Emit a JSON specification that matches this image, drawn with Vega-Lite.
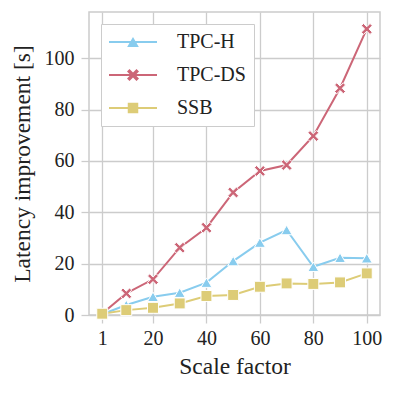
{
  "$schema": "https://vega.github.io/schema/vega-lite/v6.json",
  "width": 291,
  "height": 303,
  "autosize": {"type": "none"},
  "padding": {"left": 89, "top": 12, "right": 14, "bottom": 79},
  "background": "white",
  "config": {
    "font": "Liberation Serif",
    "view": {"stroke": "#cccccc", "strokeWidth": 1.5},
    "axis": {
      "labelFont": "Liberation Serif",
      "titleFont": "Liberation Serif",
      "labelFontSize": 20,
      "titleFontSize": 23.5,
      "titleFontWeight": "normal",
      "labelColor": "#222222",
      "titleColor": "#222222",
      "gridColor": "#cccccc",
      "gridWidth": 1.3,
      "tickColor": "#cccccc",
      "tickWidth": 1.3,
      "tickSize": 8,
      "domain": false
    },
    "legend": {
      "labelFont": "Liberation Serif",
      "labelFontSize": 20,
      "labelColor": "#222222"
    }
  },
  "data": {
    "values": [
      {"sf": 1, "benchmark": "TPC-H", "latency": 0.3},
      {"sf": 10, "benchmark": "TPC-H", "latency": 3.9},
      {"sf": 20, "benchmark": "TPC-H", "latency": 7.1},
      {"sf": 30, "benchmark": "TPC-H", "latency": 8.7},
      {"sf": 40, "benchmark": "TPC-H", "latency": 12.6},
      {"sf": 50, "benchmark": "TPC-H", "latency": 21.0},
      {"sf": 60, "benchmark": "TPC-H", "latency": 28.2},
      {"sf": 70, "benchmark": "TPC-H", "latency": 33.1},
      {"sf": 80, "benchmark": "TPC-H", "latency": 18.8},
      {"sf": 90, "benchmark": "TPC-H", "latency": 22.3},
      {"sf": 100, "benchmark": "TPC-H", "latency": 22.1},
      {"sf": 1, "benchmark": "TPC-DS", "latency": 0.6},
      {"sf": 10, "benchmark": "TPC-DS", "latency": 8.4},
      {"sf": 20, "benchmark": "TPC-DS", "latency": 13.9},
      {"sf": 30, "benchmark": "TPC-DS", "latency": 26.2},
      {"sf": 40, "benchmark": "TPC-DS", "latency": 34.0},
      {"sf": 50, "benchmark": "TPC-DS", "latency": 47.7},
      {"sf": 60, "benchmark": "TPC-DS", "latency": 56.1},
      {"sf": 70, "benchmark": "TPC-DS", "latency": 58.4},
      {"sf": 80, "benchmark": "TPC-DS", "latency": 69.7},
      {"sf": 90, "benchmark": "TPC-DS", "latency": 88.3},
      {"sf": 100, "benchmark": "TPC-DS", "latency": 111.4},
      {"sf": 1, "benchmark": "SSB", "latency": 0.5},
      {"sf": 10, "benchmark": "SSB", "latency": 1.9},
      {"sf": 20, "benchmark": "SSB", "latency": 2.8},
      {"sf": 30, "benchmark": "SSB", "latency": 4.5},
      {"sf": 40, "benchmark": "SSB", "latency": 7.4},
      {"sf": 50, "benchmark": "SSB", "latency": 7.8},
      {"sf": 60, "benchmark": "SSB", "latency": 11.0},
      {"sf": 70, "benchmark": "SSB", "latency": 12.3},
      {"sf": 80, "benchmark": "SSB", "latency": 12.1},
      {"sf": 90, "benchmark": "SSB", "latency": 12.7},
      {"sf": 100, "benchmark": "SSB", "latency": 16.2}
    ]
  },
  "encoding": {
    "x": {
      "field": "sf",
      "type": "quantitative",
      "scale": {"domain": [-3.95, 104.95], "nice": false, "zero": false},
      "axis": {"values": [1, 20, 40, 60, 80, 100], "title": "Scale factor", "labelPadding": 5, "titlePadding": 6, "labelFlush": false}
    },
    "y": {
      "field": "latency",
      "type": "quantitative",
      "scale": {"domain": [0, 118], "nice": false},
      "axis": {"values": [0, 20, 40, 60, 80, 100], "title": "Latency improvement [s]", "labelPadding": 7, "titlePadding": 10, "labelFlush": false}
    },
    "color": {
      "field": "benchmark",
      "type": "nominal",
      "scale": {"domain": ["TPC-H", "TPC-DS", "SSB"], "range": ["#88CCEE", "#CC6677", "#DDCC77"]},
      "legend": {
        "title": null,
        "orient": "top-left",
        "offset": 12,
        "fillColor": "white",
        "strokeColor": "#cccccc",
        "padding": 8,
        "symbolSize": 100,
        "symbolOffset": 14,
        "labelOffset": 34,
        "rowPadding": 13,
        "encode": {
          "symbols": {
            "update": {
              "shape": {"signal": "datum.value == 'TPC-H' ? 'M-4.8,-0.2H4.8V0.2H-4.8ZM0,-1L1.17,1H-1.17Z' : datum.value == 'TPC-DS' ? 'M-4.8,-0.2H4.8V0.2H-4.8ZM0,-0.5L0.7,-1.2L1.2,-0.7L0.5,0L1.2,0.7L0.7,1.2L0,0.5L-0.7,1.2L-1.2,0.7L-0.5,0L-1.2,-0.7L-0.7,-1.2Z' : 'M-4.8,-0.2H4.8V0.2H-4.8ZM-1.05,-1.05H1.05V1.05H-1.05Z'"},
              "fill": {"signal": "scale('color', datum.value)"},
              "fillOpacity": {"value": 1},
              "stroke": {"value": "transparent"},
              "strokeWidth": {"value": 0}
            }
          }
        }
      }
    }
  },
  "layer": [
    {
      "mark": {"type": "line", "strokeWidth": 2}
    },
    {
      "mark": {"type": "point", "filled": true, "opacity": 1, "size": 120, "stroke": "white", "strokeWidth": 1},
      "encoding": {
        "shape": {
          "field": "benchmark",
          "type": "nominal",
          "scale": {"range": ["square", "M0,-0.4L0.6,-1L1,-0.6L0.4,0L1,0.6L0.6,1L0,0.4L-0.6,1L-1,0.6L-0.4,0L-1,-0.6L-0.6,-1Z", "triangle-up"]},
          "legend": null
        }
      }
    }
  ]
}
